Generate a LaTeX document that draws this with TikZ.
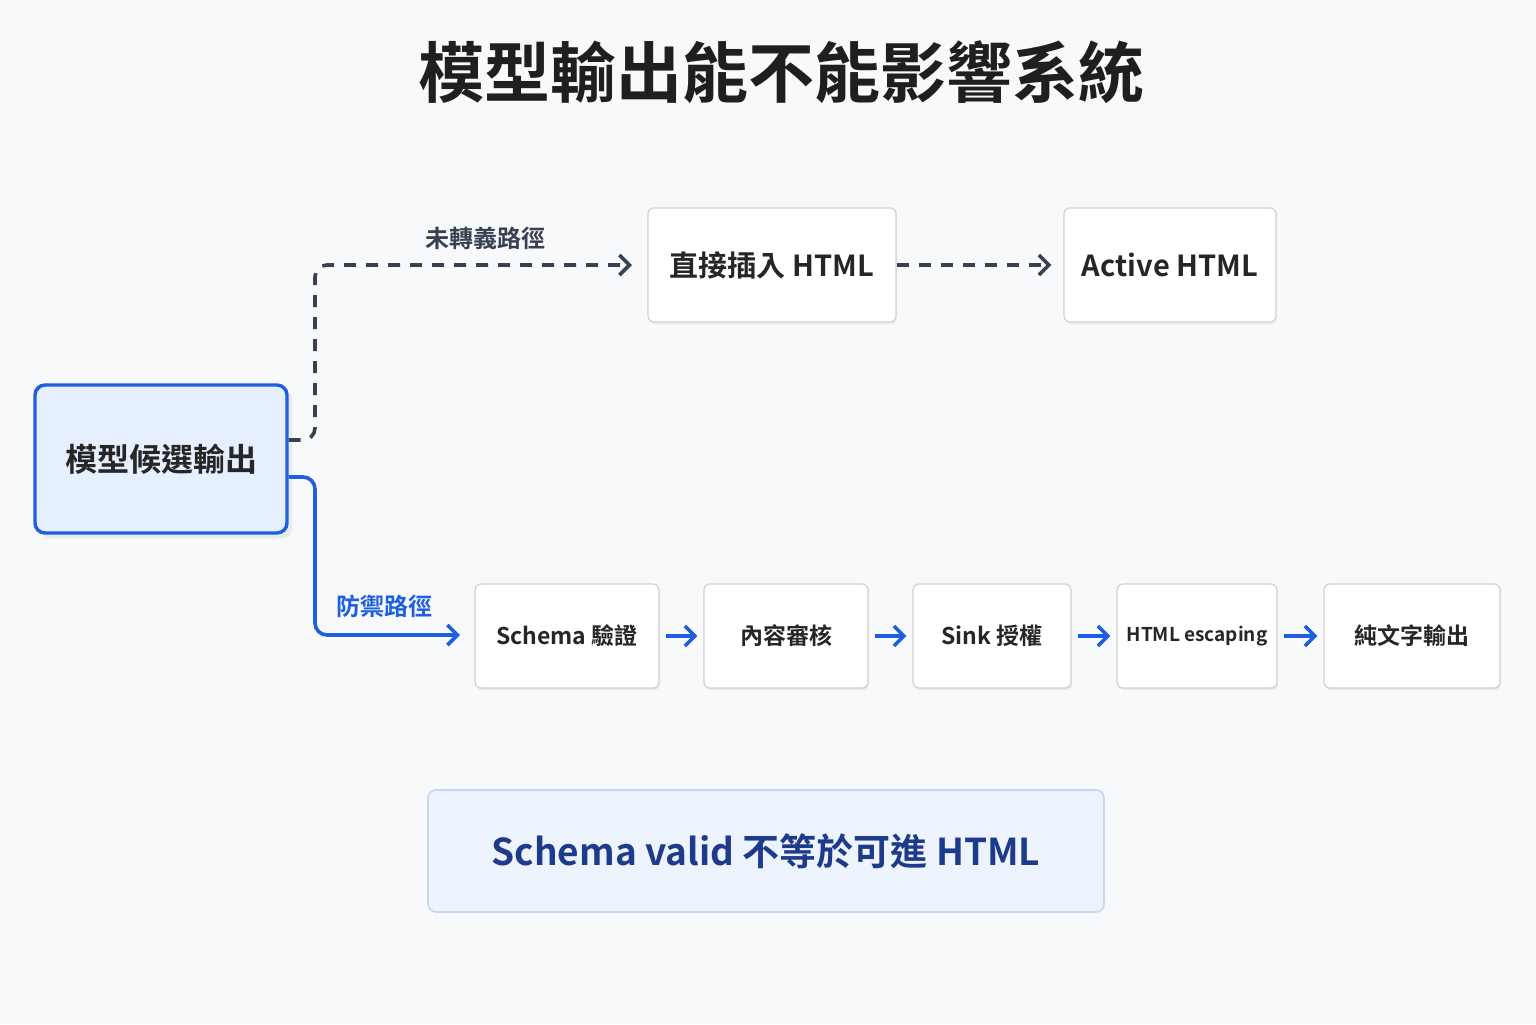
\documentclass[tikz,border=0pt]{standalone}
\usepackage{fontspec}
\setmainfont{Noto Sans CJK TC}[BoldFont={* Bold}]
\usetikzlibrary{arrows.meta,shadows}
\definecolor{bg}{HTML}{F8F9FB}
\definecolor{dark}{HTML}{374151}
\definecolor{blu}{HTML}{1D5FE0}
\definecolor{navy}{HTML}{1E3A8A}
\definecolor{srcfill}{HTML}{E6EFFD}
\definecolor{notefill}{HTML}{EEF4FD}
\definecolor{noteline}{HTML}{C6D6F3}
\begin{document}
\begin{tikzpicture}[x=0.5pt,y=-0.5pt,
 box/.style={draw=black!18,line width=0.6pt,fill=white,rounded corners=3pt,drop shadow={opacity=0.12,shadow xshift=0.5pt,shadow yshift=-1pt},font=\bfseries,text=black!85},
 da/.style={dark,line width=1.8pt,dash pattern=on 6pt off 5pt,-{Straight Barb[length=5pt,width=10pt,line width=1.8pt]}},
 ba/.style={blu,line width=1.8pt,-{Straight Barb[length=5pt,width=10pt,line width=1.8pt]}}]
\fill[bg] (0,0) rectangle (1536,1024);
\node[font=\fontsize{33}{36}\selectfont\bfseries,text=black!88] (title) at (781,72) {模型輸出能不能影響系統};
\node[draw=blu,line width=1.7pt,fill=srcfill,rounded corners=5pt,minimum width=126pt,minimum height=74pt,font=\fontsize{16}{18}\selectfont\bfseries,text=black!85,drop shadow={opacity=0.12}] (src) at (161,459) {模型候選輸出};
\node[box,minimum width=124pt,minimum height=57pt,font=\fontsize{14.5}{18}\selectfont\bfseries] (dir) at (772,265) {直接插入 HTML};
\node[box,minimum width=106pt,minimum height=57pt,font=\fontsize{14.5}{18}\selectfont\bfseries] (act) at (1170,265) {Active HTML};
\tikzset{sb/.style={box,minimum height=52pt,font=\fontsize{11.5}{14}\selectfont\bfseries}}
\node[sb,minimum width=92pt] (s1) at (567,636) {Schema 驗證};
\node[sb,minimum width=82pt] (s2) at (786,636) {內容審核};
\node[sb,minimum width=79pt] (s3) at (992,636) {Sink 授權};
\node[sb,minimum width=80pt,inner sep=1pt,font=\fontsize{9.5}{12}\selectfont\bfseries] (s4) at (1197,636) {HTML escaping};
\node[sb,minimum width=88pt] (s5) at (1412,636) {純文字輸出};
\node[draw=noteline,line width=0.8pt,fill=notefill,rounded corners=4pt,minimum width=338pt,minimum height=61pt,font=\fontsize{18.5}{24}\selectfont\bfseries,text=navy] (note) at (766,851) {Schema valid 不等於可進 HTML};
\coordinate (t1) at (632,265);
\coordinate (b1) at (460,635);
\draw[da,rounded corners=6pt] ([yshift=9.5pt]src.east) -- (315,440) -- (315,265) -- (t1);
\node[font=\fontsize{12}{14}\selectfont\bfseries,text=dark] (l1) at (485,238) {未轉義路徑};
\draw[da,shorten >=6pt] (dir) -- (act);
\draw[ba,rounded corners=6pt] ([yshift=-9pt]src.east) -- (315,477) -- (315,635) -- (b1);
\node[font=\fontsize{12}{14}\selectfont\bfseries,text=blu] (l2) at (384,606) {防禦路徑};
\draw[ba,shorten <=3pt,shorten >=3pt] (s1) -- (s2);
\draw[ba,shorten <=3pt,shorten >=3pt] (s2) -- (s3);
\draw[ba,shorten <=3pt,shorten >=3pt] (s3) -- (s4);
\draw[ba,shorten <=3pt,shorten >=3pt] (s4) -- (s5);
\end{tikzpicture}
\end{document}
